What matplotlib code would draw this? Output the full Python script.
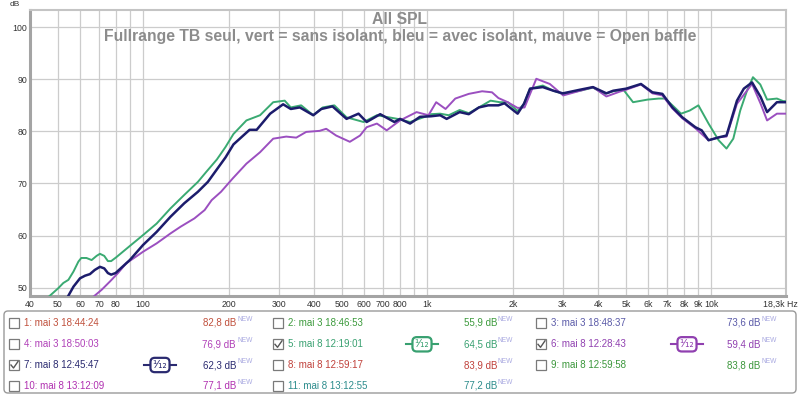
import matplotlib
matplotlib.use('Agg')
import matplotlib.pyplot as plt
from matplotlib.patches import Rectangle, FancyBboxPatch

# titles
TITLE_1 = 'All SPL'
TITLE_2 = 'Fullrange TB seul, vert = sans isolant, bleu = avec isolant, mauve = Open baffle'

# axis ticks
GRID_FREQS = [40, 50, 60, 70, 80, 90, 100, 200, 300, 400, 500, 600, 700, 800, 900,
              1000, 2000, 3000, 4000, 5000, 6000, 7000, 8000, 9000, 10000]
GRID_LABELS = ['40', '50', '60', '70', '80', '', '100', '200', '300', '400', '500', '600',
               '700', '800', '', '1k', '2k', '3k', '4k', '5k', '6k', '7k', '8k', '9k', '10k']
DB_TICKS = [50, 60, 70, 80, 90, 100]

# 5: green = sans isolant
freq_green = [46, 50.3, 52.4, 54.6, 56.9, 59.2, 60.6, 63.2, 65.9, 68.6, 70.5, 73, 75.2, 77.2,
              80.3, 89.8, 100, 111.6, 124.8, 139.6, 155.9, 166.7, 181.8, 195, 208, 231, 258,
              287, 315, 331, 360, 397, 429, 471, 520, 597, 665, 786, 870, 994, 1030, 1110,
              1190, 1300, 1400, 1520, 1670, 1800, 1920, 2080, 2190, 2300, 2550, 2780, 3000,
              3450, 3830, 4200, 4510, 4900, 5300, 5960, 6520, 6870, 7290, 7820, 8390, 9000,
              9770, 10600, 11300, 11940, 12630, 13340, 14000, 14860, 15700, 17000, 17900, 18300]
spl_green = [48.0, 49.9, 50.9, 51.5, 53.1, 55.0, 55.7, 55.7, 55.3, 56.1, 56.5, 56.1, 55.1, 55.1,
             55.8, 58.0, 60.1, 62.3, 65.2, 67.8, 70.3, 72.2, 74.6, 77.0, 79.5, 82.1, 83.1,
             85.6, 85.9, 84.6, 85.0, 83.1, 84.6, 85.0, 82.7, 81.8, 83.1, 82.4, 81.8, 82.9, 83.3, 83.4,
             83.1, 84.1, 83.5, 84.6, 85.9, 85.6, 85.6, 83.9, 85.3, 88.2, 88.8, 87.8, 87.2,
             87.8, 88.4, 87.2, 87.7, 88.0, 85.6, 86.1, 86.3, 86.3, 85.0, 83.4, 84.0, 85.0,
             81.5, 78.3, 76.7, 78.6, 84.0, 87.8, 90.4, 89.0, 86.1, 86.3, 85.8, 85.8]

# 6: purple = open baffle
freq_purple = [66, 71.5, 76.5, 81.6, 87.3, 94.7, 100, 111.6, 124.8, 135.5, 151.6, 164.7, 174.3,
               188, 207, 231, 258, 287, 319, 346, 375, 418, 441, 478, 534, 580, 612, 665, 720,
               802, 917, 1010, 1075, 1160, 1255, 1400, 1560, 1690, 1780, 1920, 2080, 2200,
               2420, 2700, 3010, 3450, 3830, 4270, 4740, 5010, 5650, 6200, 6720, 7290, 7900,
               8780, 9770, 10700, 11300, 12300, 13900, 14900, 15700, 17000, 17900, 18300]
spl_purple = [48.0, 49.6, 51.2, 52.8, 54.7, 56.0, 56.9, 58.5, 60.4, 61.7, 63.3, 64.9, 66.8,
              68.4, 71.0, 73.8, 76.0, 78.6, 79.0, 78.8, 79.9, 80.1, 80.5, 79.2, 78.0, 79.2, 80.8,
              81.5, 80.2, 82.1, 83.7, 83.1, 85.6, 84.3, 86.3, 87.2, 87.7, 87.5, 86.4, 85.6,
              84.5, 84.6, 90.1, 89.1, 86.9, 87.8, 88.5, 86.7, 87.6, 88.0, 89.0, 87.3, 86.9,
              84.4, 82.5, 80.6, 78.3, 78.9, 79.0, 85.3, 89.1, 85.3, 82.1, 83.4, 83.4, 83.4]

# 7: navy = avec isolant
freq_navy = [54, 56.9, 60.0, 62.5, 65.0, 67.6, 70.5, 73, 75.2, 77.2, 80, 89.8, 100, 111.6,
             124.8, 139.6, 155.9, 169, 181.8, 195, 208, 237, 251, 280, 311, 331, 356, 397, 424,
             464, 520, 573, 612, 683, 766, 802, 870, 943, 1030, 1110, 1170, 1300, 1400, 1520,
             1640, 1780, 1870, 2080, 2190, 2300, 2550, 2780, 3000, 3450, 3830, 4270, 4510,
             5010, 5650, 6200, 6720, 7290, 7900, 8780, 9240, 9770, 10700, 11300, 12300,
             13000, 13900, 14900, 15700, 17000, 17900, 18300]
spl_navy = [48.0, 50.2, 51.8, 52.3, 52.6, 53.4, 54.0, 53.7, 52.8, 52.5, 52.8, 55.3, 58.2, 60.7,
            63.6, 66.2, 68.4, 70.3, 72.7, 75.0, 77.5, 80.3, 80.3, 83.4, 85.2, 84.3, 84.6, 83.1,
            84.3, 84.8, 82.4, 83.4, 81.8, 83.3, 81.8, 82.4, 81.5, 82.8, 82.9, 83.1, 82.4,
            83.7, 83.3, 84.6, 85.0, 85.0, 85.4, 83.4, 85.3, 88.2, 88.5, 87.8, 87.3, 88.0,
            88.5, 87.3, 87.8, 88.2, 89.1, 87.5, 87.2, 84.6, 82.7, 80.8, 80.2, 78.3, 78.9,
            79.2, 85.9, 88.2, 89.4, 86.6, 83.7, 85.6, 85.6, 85.6]

# legend table (REW measurement list)
leg_names = [['1: mai 3 18:44:24', '2: mai 3 18:46:53', '3: mai 3 18:48:37'],
             ['4: mai 3 18:50:03', '5: mai 8 12:19:01', '6: mai 8 12:28:43'],
             ['7: mai 8 12:45:47', '8: mai 8 12:59:17', '9: mai 8 12:59:58'],
             ['10: mai 8 13:12:09', '11: mai 8 13:12:55', None]]
leg_values = [['82,8 dB', '55,9 dB', '73,6 dB'],
              ['76,9 dB', '64,5 dB', '59,4 dB'],
              ['62,3 dB', '83,9 dB', '83,8 dB'],
              ['77,1 dB', '77,2 dB', None]]
leg_colors = [['#c0503c', '#3c9a3c', '#5a5aa8'],
              ['#b040b8', '#38a070', '#9040b0'],
              ['#2a2a70', '#c0403a', '#3a963a'],
              ['#b030b0', '#2c8c8c', None]]
leg_checked = [[False, False, False],
               [False, True, True],
               [True, False, False],
               [False, False, None]]
leg_smooth = [[False, False, False],
              [False, True, True],
              [True, False, False],
              [False, False, None]]

# colours
GREEN = '#3aaa72'
PURPLE = '#9b4fc0'
NAVY = '#1c1c6c'
GRID = '#cccccc'
TITLE_COL = '#8c8c8c'

plt.rcParams['font.family'] = ['Liberation Sans', 'DejaVu Sans']

fig = plt.figure(figsize=(8, 3.98), dpi=100)
ax = fig.add_axes([30 / 800, 102 / 398, 756 / 800, 286 / 398])

ax.plot(freq_green, spl_green, color=GREEN, lw=1.4, zorder=3)
ax.plot(freq_purple, spl_purple, color=PURPLE, lw=1.4, zorder=4)
ax.plot(freq_navy, spl_navy, color=NAVY, lw=1.8, zorder=5)

ax.set_xscale('log')
ax.set_xlim(40, 18300)
ax.set_ylim(48.4, 103.3)
ax.set_xticks(GRID_FREQS)
ax.set_xticklabels(GRID_LABELS)
ax.minorticks_off()
ax.set_yticks(DB_TICKS)
ax.grid(True, color=GRID, lw=0.9)
ax.tick_params(axis='both', length=0, labelsize=6.3, colors='#333333')
ax.tick_params(axis='x', pad=3)
ax.tick_params(axis='y', pad=2)
for s in ['top', 'right']:
    ax.spines[s].set_color('#c4c4c4')
    ax.spines[s].set_linewidth(1.5)
for s in ['left', 'bottom']:
    ax.spines[s].set_color('#a4a4a4')
    ax.spines[s].set_linewidth(2.2)

# overlay in pixel coordinates for texts and legend
ov = fig.add_axes([0, 0, 1, 1], zorder=10)
ov.set_xlim(0, 800)
ov.set_ylim(398, 0)
ov.axis('off')
ov.patch.set_alpha(0)

ov.text(15, 5, 'dB', fontsize=6, color='#333333', ha='center', va='center')
ov.text(798, 304, '18,3k Hz', fontsize=6.3, color='#333333', ha='right', va='center')
ov.text(400, 20, TITLE_1, fontsize=11.3, fontweight='bold', color=TITLE_COL,
        ha='center', va='center')
ov.text(400, 36.5, TITLE_2, fontsize=11.3, fontweight='bold', color=TITLE_COL,
        ha='center', va='center')

# legend frame
ov.add_patch(FancyBboxPatch((4, 311), 792, 82, boxstyle='round,pad=0,rounding_size=4',
                            fc='white', ec='#9a9a9a', lw=1.0))

row_y = [322.7, 344.3, 365.0, 385.7]
col_box = [9, 273, 536]
col_val = [236, 497, 760]
col_icon = [160, 422, 687]

for r in range(4):
    for c in range(3):
        name = leg_names[r][c]
        if name is None:
            continue
        y = row_y[r]
        x0 = col_box[c]
        col = leg_colors[r][c]
        ov.add_patch(Rectangle((x0, y - 5), 10, 10, fc='white', ec='#7a7a7a', lw=0.9))
        if leg_checked[r][c]:
            ov.plot([x0 + 2, x0 + 4.5, x0 + 9], [y, y + 3, y - 3.5], color='#555555', lw=1.0)
        ov.text(x0 + 15, y, name, fontsize=7, color=col, ha='left', va='center')
        ov.text(col_val[c], y, leg_values[r][c], fontsize=7, color=col, ha='right', va='center')
        ov.text(col_val[c] + 1, y - 3.5, 'NEW', fontsize=4.8, color='#a8a8e0',
                ha='left', va='center')
        if leg_smooth[r][c]:
            xi = col_icon[c]
            ov.plot([xi - 16, xi + 16], [y, y], color=col, lw=1.5)
            ov.text(xi, y, '¹⁄₁₂', fontsize=7.8, color=col, ha='center', va='center',
                    family='DejaVu Sans',
                    bbox=dict(boxstyle='round,pad=0.2,rounding_size=0.4', fc='white',
                              ec=col, lw=1.6))

fig.savefig('out.png', dpi=100)
